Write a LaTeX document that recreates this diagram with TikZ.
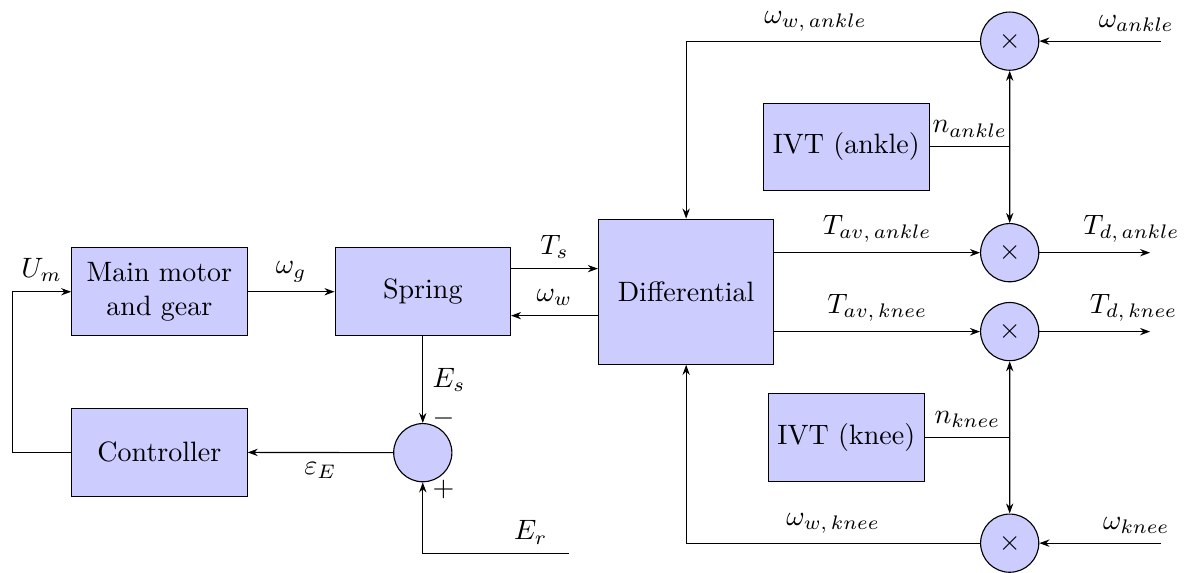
\documentclass[tikz,border=0pt]{standalone}
\usepackage{amsmath,amssymb}
\usepackage{tikz}
\usetikzlibrary{positioning,arrows.meta,calc}

\begin{document}
\begin{tikzpicture}[
    node distance=1.09cm,
    block/.style={rectangle, draw=black, fill=blue!20, minimum width=2.2cm, minimum height=1.1cm, align=center},
    mult/.style={circle, draw=black, fill=blue!20, minimum size=0.73cm, inner sep=0pt},
    arrow/.style={-{Stealth[length=3.6pt, width=2.6pt]}},
]
    \useasboundingbox (0,0) rectangle (15.08,-7.18);

    % Main chain
    \node[block] (motor) at (2.0,-3.66) {Main motor\\and gear};
    \node[block, right=of motor] (spring) {Spring};
    \node[block, right=of spring, minimum height=1.82cm] (diff) {Differential};
    \node[block, below=0.9cm of motor] (ctrl) {Controller};
    \node[mult, below=of spring] (sum) {};

    % Multipliers
    \node[mult, right=2.58cm of diff.east, yshift=0.49cm] (tAnkle) {$\times$};
    \node[mult, right=2.58cm of diff.east, yshift=-0.5cm] (tKnee) {$\times$};
    \node[mult, above=1.91cm of tAnkle] (wAnkle) {$\times$};
    \node[mult, below=1.91cm of tKnee] (wKnee) {$\times$};

    % IVTs
    \coordinate (jAnkle) at ($(wAnkle)!0.5!(tAnkle)$);
    \coordinate (jKnee) at ($(tKnee)!0.5!(wKnee)$);
    \node[block, minimum width=0pt] (ivtAnkle) at ($(jAnkle)+(-2.05,0)$) {IVT (ankle)};
    \node[block, minimum width=0pt] (ivtKnee) at ($(jKnee)+(-2.05,0)$) {IVT (knee)};

    % Free ends
    \coordinate[left=0.74cm of ctrl.west] (fb);
    \coordinate (er) at ($(sum)+(1.83,-1.27)$);
    \coordinate[right=1.52cm of wAnkle.east] (inAnkle);
    \coordinate[right=1.52cm of wKnee.east] (inKnee);
    \coordinate[right=1.39cm of tAnkle.east] (outAnkle);
    \coordinate[right=1.39cm of tKnee.east] (outKnee);

    % Control loop
    \draw[arrow] (ctrl.west) -- (fb) |- node[pos=0.75, above] {$U_m$} (motor.west);
    \draw[arrow] (motor) -- node[above] {$\omega_g$} (spring);
    \draw[arrow] ([yshift=0.29cm]spring.east) -- node[above] {$T_s$} ([yshift=0.29cm]spring.east -| diff.west);
    \draw[arrow] ([yshift=-0.3cm]spring.east -| diff.west) -- node[above] {$\omega_w$} ([yshift=-0.3cm]spring.east);
    \draw[arrow] (spring) -- node[right] {$E_s$} node[pos=0.95, right] {$-$} (sum);
    \draw[arrow] (er) -| node[pos=0.13, above] {$E_r$} node[pos=0.95, right] {$+$} (sum.south);
    \draw[arrow] (sum) -- node[below] {$\varepsilon_E$} (ctrl);

    % Ankle side
    \draw[arrow] (wAnkle.west) -| node[pos=0.28, above] {$\omega_{w,\,ankle}$} (diff.north);
    \draw[arrow] (inAnkle) -- node[pos=0.2, above] {$\omega_{ankle}$} (wAnkle);
    \draw (ivtAnkle.east) -- node[above] {$n_{ankle}$} (jAnkle);
    \draw[arrow] (jAnkle) -- (wAnkle);
    \draw[arrow] (jAnkle) -- (tAnkle);
    \draw[arrow] (tAnkle.west -| diff.east) -- node[above] {$T_{av,\,ankle}$} (tAnkle);
    \draw[arrow] (tAnkle) -- node[pos=0.83, above] {$T_{d,\,ankle}$} (outAnkle);

    % Knee side
    \draw[arrow] (tKnee.west -| diff.east) -- node[above] {$T_{av,\,knee}$} (tKnee);
    \draw[arrow] (tKnee) -- node[pos=0.85, above] {$T_{d,\,knee}$} (outKnee);
    \draw (ivtKnee.east) -- node[above] {$n_{knee}$} (jKnee);
    \draw[arrow] (jKnee) -- (tKnee);
    \draw[arrow] (jKnee) -- (wKnee);
    \draw[arrow] (wKnee.west) -| node[pos=0.25, above] {$\omega_{w,\,knee}$} (diff.south);
    \draw[arrow] (inKnee) -- node[pos=0.2, above] {$\omega_{knee}$} (wKnee);
\end{tikzpicture}
\end{document}
